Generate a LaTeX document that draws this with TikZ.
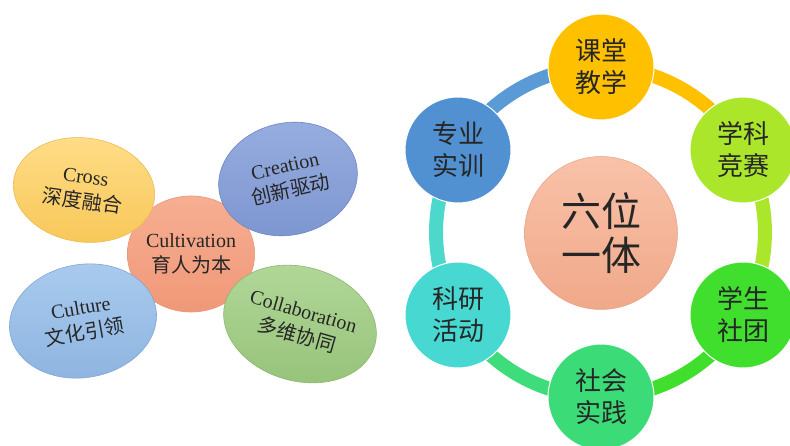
\documentclass[tikz,border=0pt]{standalone}
\usepackage{fontspec}
\setmainfont{Liberation Serif}
\newfontfamily\cjk{Noto Sans CJK SC}
\usetikzlibrary{shapes.geometric,backgrounds}
\definecolor{crossT}{HTML}{FFDD88}
\definecolor{crossB}{HTML}{F8C85A}
\definecolor{crossD}{HTML}{E9BC55}
\definecolor{creaT}{HTML}{97AEE0}
\definecolor{creaB}{HTML}{7D95D0}
\definecolor{creaD}{HTML}{6D85C4}
\definecolor{cultT}{HTML}{F7AE92}
\definecolor{cultB}{HTML}{F09878}
\definecolor{cultD}{HTML}{E8957A}
\definecolor{cturT}{HTML}{AACBEE}
\definecolor{cturB}{HTML}{8DB4E0}
\definecolor{cturD}{HTML}{7FA6D4}
\definecolor{collT}{HTML}{B2D899}
\definecolor{collB}{HTML}{98C47C}
\definecolor{collD}{HTML}{8BB770}
\definecolor{sixT}{HTML}{F9C2A8}
\definecolor{sixB}{HTML}{F0A88A}
\definecolor{sixD}{HTML}{E8A286}
\definecolor{cA}{HTML}{FFC000}
\definecolor{cB}{HTML}{ABE62A}
\definecolor{cC}{HTML}{40DF2E}
\definecolor{cD}{HTML}{3BDC78}
\definecolor{cE}{HTML}{48D8D2}
\definecolor{cF}{HTML}{5191D2}
\definecolor{aD}{HTML}{3EDC7A}
\definecolor{aE}{HTML}{4DD8CC}
\definecolor{aF}{HTML}{5B9BD5}
\begin{document}
\begin{tikzpicture}[x=1pt,y=1pt,
  leftell/.style={ellipse, inner sep=0pt, align=center, line width=0.6pt,
    font=\fontsize{20}{25}\selectfont, text=black!85},
  ringnode/.style={circle, minimum size=106pt, inner sep=0pt, align=center,
    draw=white, line width=1pt, fill=#1, text=black!85,
    font=\cjk\fontsize{26}{32}\selectfont},
  ringarc/.style={line width=14pt, draw=#1}
]
\clip (0,0) rectangle (790,-446);
\useasboundingbox (0,0) rectangle (790,-446);

% ---- left panel ----
\node[leftell, minimum width=124pt, minimum height=116pt,
  top color=cultT, bottom color=cultB, draw=cultD] (cult) at (191,-254)
  {Cultivation\\{\cjk 育人为本}};
\node[leftell, minimum width=142pt, minimum height=104pt, rotate=-8,
  top color=crossT, bottom color=crossB, draw=crossD] (cross) at (84,-190)
  {Cross\\{\cjk 深度融合}};
\node[leftell, minimum width=140pt, minimum height=112pt, rotate=13,
  top color=creaT, bottom color=creaB, draw=creaD] (crea) at (288,-179)
  {Creation\\{\cjk 创新驱动}};
\node[leftell, minimum width=148pt, minimum height=113pt, rotate=10,
  top color=cturT, bottom color=cturB, draw=cturD] (ctur) at (83,-321)
  {Culture\\{\cjk 文化引领}};
\node[leftell, minimum width=138pt, minimum height=114pt, rotate=-16,
  top color=collT, bottom color=collB, draw=collD] (coll) at (300,-324)
  {Collaboration\\{\cjk 多维协同}};

% ---- right panel ----
\node[circle, minimum size=153pt, inner sep=0pt, align=center,
  top color=sixT, bottom color=sixB, draw=sixD, line width=0.5pt,
  text=black!85, font=\cjk\fontsize{40}{44}\selectfont] (six) at (601,-233)
  {六位\\一体};
\node[ringnode=cA] (ktjx) at (601,-67) {课堂\\教学};
\node[ringnode=cB] (xkjs) at (743,-150) {学科\\竞赛};
\node[ringnode=cC] (xsst) at (743,-315) {学生\\社团};
\node[ringnode=cD] (shsj) at (601,-397) {社会\\实践};
\node[ringnode=cE] (kyhd) at (458,-315) {科研\\活动};
\node[ringnode=cF] (zysx) at (458,-150) {专业\\实训};

\begin{scope}[on background layer]
\fill[white] (0,0) rectangle (790,-446);
\draw[ringarc=cA] (ktjx.center) to[bend left=30, looseness=0.91] (xkjs.center);
\draw[ringarc=cB] (xkjs.center) to[bend left=30, looseness=0.91] (xsst.center);
\draw[ringarc=cC] (xsst.center) to[bend left=30, looseness=0.91] (shsj.center);
\draw[ringarc=aD] (shsj.center) to[bend left=30, looseness=0.91] (kyhd.center);
\draw[ringarc=aE] (kyhd.center) to[bend left=30, looseness=0.91] (zysx.center);
\draw[ringarc=aF] (zysx.center) to[bend left=30, looseness=0.91] (ktjx.center);
\end{scope}
\end{tikzpicture}
\end{document}
